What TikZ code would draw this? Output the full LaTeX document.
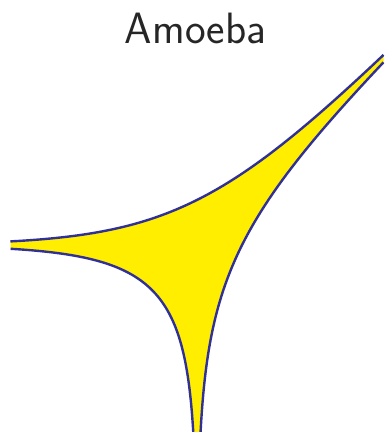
\documentclass[tikz,border=0pt]{standalone}
\definecolor{amoebafill}{RGB}{255,238,0}
\definecolor{amoebaline}{RGB}{48,48,150}
\begin{document}
\begin{tikzpicture}[x=1cm,y=1cm,
    edge/.style={amoebaline,line width=1.05pt},
    title/.style={font=\fontsize{19.2}{21}\selectfont\sffamily,text=black!85}]
            \useasboundingbox (-3.031,-2.877) rectangle (2.877,3.769);
            \clip (-3.031,-2.877) rectangle (2.877,3.769);
            % filled region
            \fill[amoebafill]
                plot[domain=-2.81:2.81,samples=120] ({-ln(1+exp(-\x))},{-ln(1+exp(\x))})
                -- plot[domain=-2.9:2.812,samples=120] ({ln(1+exp(\x))},{\x})
                -- plot[domain=2.87:-2.87,samples=120] ({\x},{ln(1+exp(\x))})
                -- cycle;
            % boundary curves
            \draw[edge] plot[domain=-2.81:2.9,samples=120] ({-ln(1+exp(-\x))},{-ln(1+exp(\x))});
            \draw[edge] plot[domain=-2.9:2.812,samples=120] ({ln(1+exp(\x))},{\x});
            \draw[edge] plot[domain=-2.87:2.87,samples=120] ({\x},{ln(1+exp(\x))});
            \node[title,anchor=base] (name) at (-0.023,3.103) {Amoeba};
        \end{tikzpicture}
\end{document}
